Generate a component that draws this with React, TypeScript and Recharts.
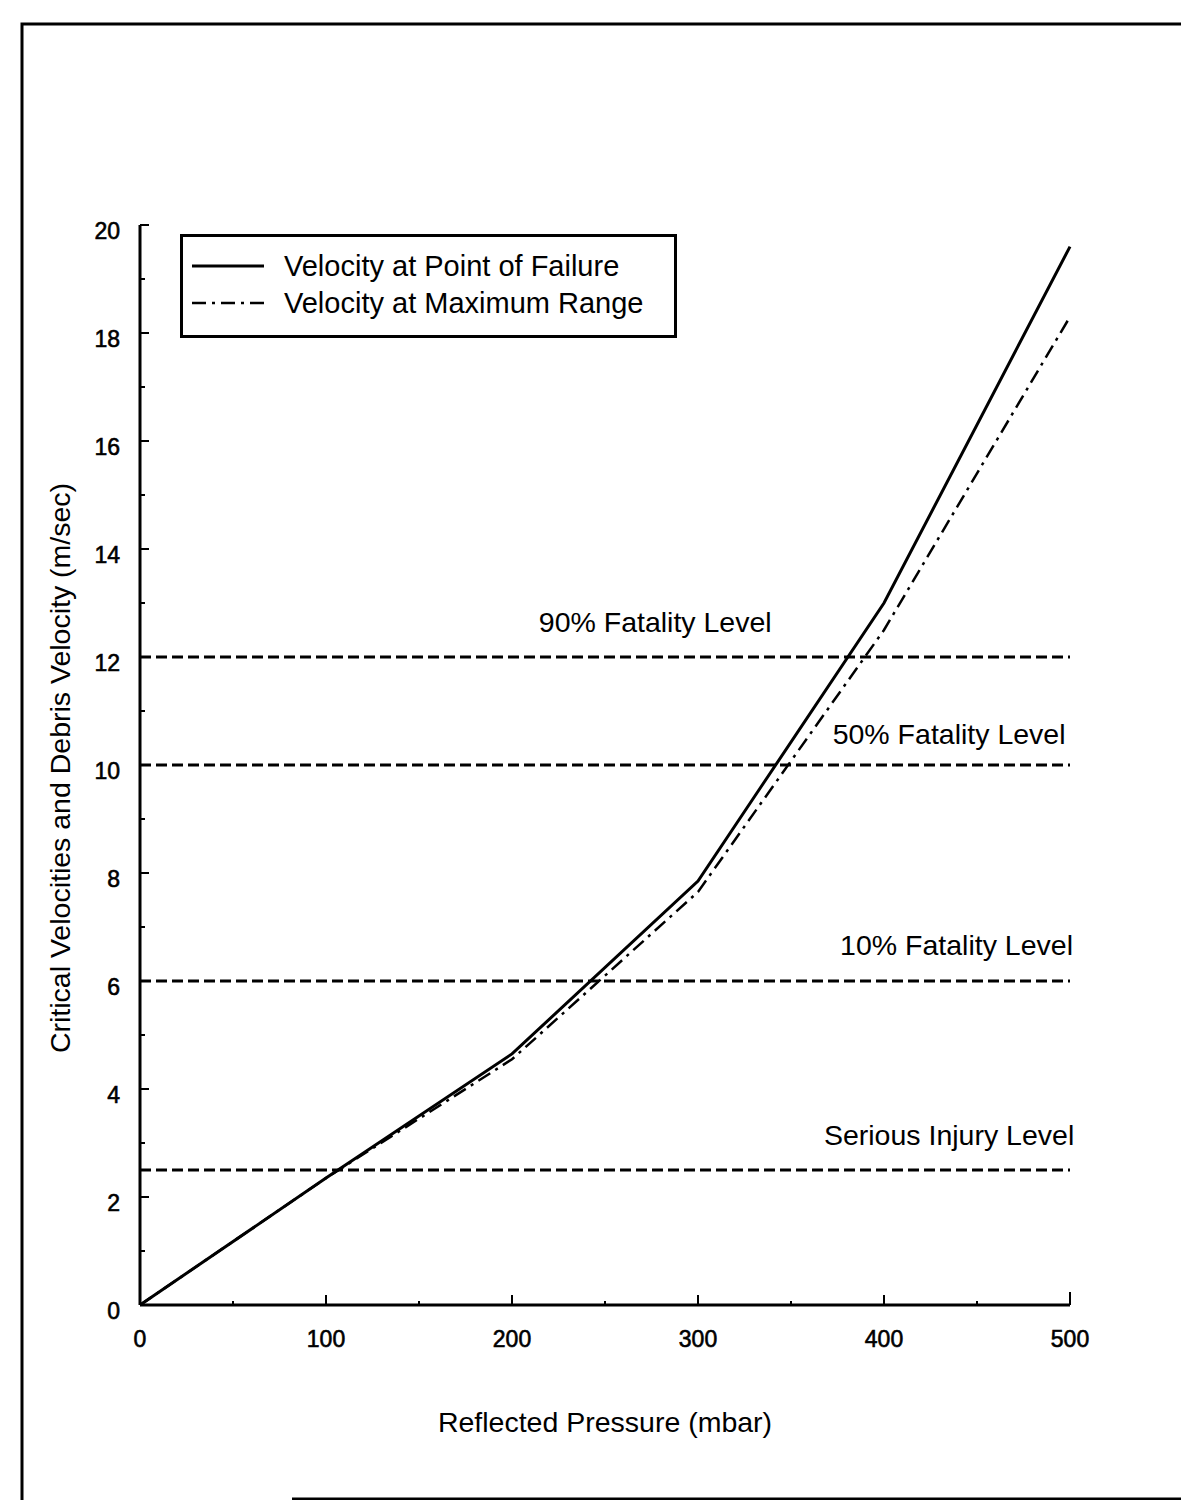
import React from 'react';
import { LineChart, Line, XAxis, YAxis, ReferenceLine, ReferenceDot, Legend } from 'recharts';

const pressures = [0, 100, 200, 300, 400, 500];
const velocityFailure = [0, 2.35, 4.65, 7.85, 13.0, 19.6];
const velocityMaxRange = [0, 2.35, 4.55, 7.65, 12.5, 18.3];

const seriesNames = ['Velocity at Point of Failure', 'Velocity at Maximum Range'];

const levelValues = [12, 10, 6, 2.5];
const levelNames = ['90% Fatality Level', '50% Fatality Level', '10% Fatality Level', 'Serious Injury Level'];
const levelLabelX = [277, 435, 439, 435];
const levelLabelY = [12.65, 10.57, 6.66, 3.14];

const xTicks = [0, 50, 100, 150, 200, 250, 300, 350, 400, 450, 500];
const yTicks = [0, 1, 2, 3, 4, 5, 6, 7, 8, 9, 10, 11, 12, 13, 14, 15, 16, 17, 18, 19, 20];

const xTitle = 'Reflected Pressure (mbar)';
const yTitle = 'Critical Velocities and Debris Velocity (m/sec)';

const data = pressures.map((p, i) => ({ p, failure: velocityFailure[i], maxRange: velocityMaxRange[i] }));

const FONT = '"Liberation Sans", Arial, Helvetica, sans-serif';
const DASH_DOT = '14 6 3 6';
const DASHED = '11 5';
const TEXT_SIZE = 28.5;
const TICK_SIZE = 23;

const YTick = (props: any) => {
  const { x, y, payload } = props;
  const v = payload.value;
  const major = v % 2 === 0;
  return (
    <g>
      {v !== 0 && <line x1={x} y1={y} x2={x + (major ? 9 : 5)} y2={y} stroke="#000" strokeWidth={2} />}
      {major && (
        <text
          x={x - 20}
          y={y + 14}
          textAnchor="end"
          fontSize={TICK_SIZE}
          fontFamily={FONT}
          fill="#000"
          stroke="#000"
          strokeWidth={0.6}
        >
          {v}
        </text>
      )}
    </g>
  );
};

const XTick = (props: any) => {
  const { x, y, payload } = props;
  const v = payload.value;
  const major = v % 100 === 0;
  const len = v === 500 ? 13 : major ? 10 : 4;
  return (
    <g>
      {v !== 0 && <line x1={x} y1={y} x2={x} y2={y - len} stroke="#000" strokeWidth={2} />}
      {major && (
        <text
          x={x}
          y={y + 42}
          textAnchor="middle"
          fontSize={TICK_SIZE}
          fontFamily={FONT}
          fill="#000"
          stroke="#000"
          strokeWidth={0.6}
        >
          {v}
        </text>
      )}
    </g>
  );
};

const LegendBox = () => (
  <div
    style={{
      position: 'relative',
      width: 497,
      height: 104,
      border: '3px solid #000',
      boxSizing: 'border-box',
      background: '#fff',
      fontFamily: FONT,
      fontSize: 29,
      color: '#000',
    }}
  >
    {seriesNames.map((name, i) => (
      <div
        key={name}
        style={{
          position: 'absolute',
          left: 9,
          top: (i === 0 ? 32 : 69) - 3 - 16,
          height: 32,
          display: 'flex',
          alignItems: 'center',
          whiteSpace: 'nowrap',
        }}
      >
        <svg width={72} height={32} style={{ display: 'block' }}>
          <line
            x1={0}
            y1={16}
            x2={72}
            y2={16}
            stroke="#000"
            strokeWidth={i === 0 ? 3 : 2.5}
            strokeDasharray={i === 0 ? undefined : DASH_DOT}
          />
        </svg>
        <span style={{ marginLeft: 20, lineHeight: '32px' }}>{name}</span>
      </div>
    ))}
  </div>
);

const YTitle = (props: any) => {
  const vb = props.viewBox || {};
  const cx = 60;
  const cy = vb.y + vb.height / 2 + 3;
  return (
    <text
      x={cx}
      y={cy}
      transform={`rotate(-90 ${cx} ${cy})`}
      textAnchor="middle"
      dominantBaseline="central"
      fontSize={TEXT_SIZE}
      fontFamily={FONT}
      fill="#000"
    >
      {yTitle}
    </text>
  );
};

const XTitle = (props: any) => {
  const vb = props.viewBox || {};
  const cx = vb.x + vb.width / 2;
  const cy = vb.y + 117;
  return (
    <text x={cx} y={cy} textAnchor="middle" dominantBaseline="central" fontSize={TEXT_SIZE} fontFamily={FONT} fill="#000">
      {xTitle}
    </text>
  );
};

const LevelLabel = (text: string) => (props: any) => {
  const vb = props.viewBox || {};
  const cx = vb.cx !== undefined ? vb.cx : vb.x + (vb.width || 0) / 2;
  const cy = vb.cy !== undefined ? vb.cy : vb.y + (vb.height || 0) / 2;
  return (
    <text x={cx} y={cy} textAnchor="middle" dominantBaseline="central" fontSize={TEXT_SIZE} fontFamily={FONT} fill="#000">
      {text}
    </text>
  );
};

export default function App() {
  return (
    <div style={{ position: 'relative', width: 1189, height: 1508, margin: -8, overflow: 'hidden', background: '#fff' }}>
      <LineChart
        width={1189}
        height={1508}
        data={data}
        margin={{ top: 225, right: 119, bottom: 163, left: 80 }}
      >
        <XAxis
          dataKey="p"
          type="number"
          domain={[0, 500]}
          ticks={xTicks}
          interval={0}
          height={40}
          tickSize={0}
          tickMargin={0}
          tickLine={false}
          axisLine={{ stroke: '#000', strokeWidth: 3 }}
          tick={<XTick />}
          label={<XTitle />}
        />
        <YAxis
          type="number"
          domain={[0, 20]}
          ticks={yTicks}
          interval={0}
          width={60}
          tickSize={0}
          tickMargin={0}
          tickLine={false}
          axisLine={{ stroke: '#000', strokeWidth: 3 }}
          tick={<YTick />}
          label={<YTitle />}
        />
        {levelValues.map((v) => (
          <ReferenceLine key={'rl' + v} y={v} stroke="#000" strokeWidth={3} strokeDasharray={DASHED} />
        ))}
        {levelNames.map((name, i) => (
          <ReferenceDot
            key={name}
            x={levelLabelX[i]}
            y={levelLabelY[i]}
            r={0}
            fill="none"
            stroke="none"
            label={LevelLabel(name)}
          />
        ))}
        <Line
          type="linear"
          dataKey="failure"
          name={seriesNames[0]}
          stroke="#000"
          strokeWidth={3}
          dot={false}
          activeDot={false}
          isAnimationActive={false}
        />
        <Line
          type="linear"
          dataKey="maxRange"
          name={seriesNames[1]}
          stroke="#000"
          strokeWidth={2.5}
          strokeDasharray={DASH_DOT}
          dot={false}
          activeDot={false}
          isAnimationActive={false}
        />
        <Legend
          layout="vertical"
          align="center"
          verticalAlign="middle"
          content={() => <LegendBox />}
          wrapperStyle={{ position: 'absolute', left: 180, top: 234, width: 497, height: 104, margin: 0 }}
        />
      </LineChart>
      <svg
        width={1189}
        height={1508}
        style={{ position: 'absolute', left: 0, top: 0, pointerEvents: 'none' }}
      >
        <polyline points="22,1508 22,24 1186,24 1186,940" fill="none" stroke="#000" strokeWidth={3} />
        <line x1={292} y1={1499} x2={1189} y2={1499} stroke="#000" strokeWidth={3} />
      </svg>
    </div>
  );
}
